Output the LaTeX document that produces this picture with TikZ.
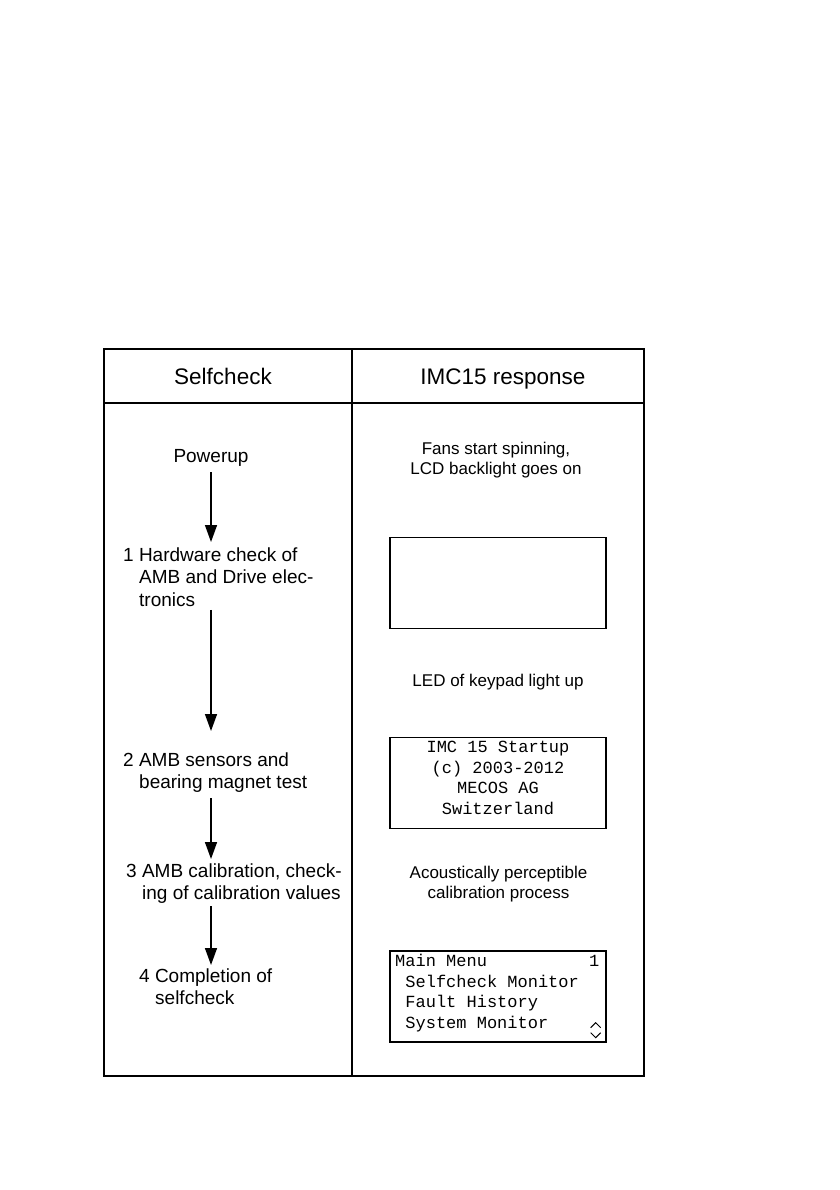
\documentclass[tikz,border=0pt]{standalone}
\usepackage{fontspec}
\setmainfont{Liberation Sans}
\setmonofont{Liberation Mono}
\usetikzlibrary{arrows.meta,calc}
\begin{document}
\begin{tikzpicture}[x=1pt,y=-1pt,
  frame/.style={line width=1.4pt},
  hdr/.style={inner sep=0pt,anchor=base,font=\fontsize{22.5}{26}\selectfont},
  lefttxt/.style={inner sep=0pt,anchor=base west,font=\fontsize{19}{22.5}\selectfont},
  righttxt/.style={inner sep=0pt,anchor=base,font=\fontsize{17}{20.7}\selectfont},
  lcd/.style={draw,line width=1.4pt,minimum width=216pt,minimum height=91pt,inner sep=0pt},
  monotxt/.style={inner sep=0pt,font=\fontsize{17}{20.5}\selectfont\ttfamily},
  arr/.style={line width=1.5pt,-{Triangle[length=17pt,width=12pt]}},
  chev/.style={line width=1pt}]
\useasboundingbox (0,0) rectangle (839,1190);
% table
\draw[frame] (104,349) rectangle (644,1076);
\draw[frame] (104,403) -- (644,403);
\draw[frame] (352,349) -- (352,1076);
\node[hdr] (h1) at (223,384) {Selfcheck};
\node[hdr] (h2) at (503,384) {IMC15 response};
% left column
\node[inner sep=0pt,anchor=base,font=\fontsize{19}{22.5}\selectfont] (pu) at (211,462) {Powerup};
\node[lefttxt] (s1) at (123,561) {\begin{tabular}[t]{@{}l@{}}1 Hardware check of\\\hspace{16pt}AMB and Drive elec-\\\hspace{16pt}tronics\end{tabular}};
\node[lefttxt] (s2) at (123,766) {\begin{tabular}[t]{@{}l@{}}2 AMB sensors and\\\hspace{16pt}bearing magnet test\end{tabular}};
\node[lefttxt] (s3) at (126,877) {\begin{tabular}[t]{@{}l@{}}3 AMB calibration, check-\\\hspace{16pt}ing of calibration values\end{tabular}};
\node[lefttxt] (s4) at (139,982) {\begin{tabular}[t]{@{}l@{}}4 Completion of\\\hspace{16pt}selfcheck\end{tabular}};
\draw[arr] ($(pu.base)+(0,10)$) -- ($(pu.base |- s1.base)+(0,-19)$);
\draw[arr] ($(pu.base |- s1.south)+(0,-3)$) -- ($(pu.base |- s2.base)+(0,-35)$);
\draw[arr] ($(pu.base |- s2.south)+(0,3)$) -- ($(pu.base |- s3.base)+(0,-18)$);
\draw[arr] ($(pu.base |- s3.south)+(0,0)$) -- ($(pu.base |- s4.base)+(0,-17)$);
% right column
\node[righttxt] (r1) at (496,454) {\begin{tabular}[t]{@{}c@{}}Fans start spinning,\\LCD backlight goes on\end{tabular}};
\node[lcd] (b1) at (498,583) {};
\node[righttxt] (r2) at (498,686) {LED of keypad light up};
\node[lcd] (b2) at (498,783) {};
\node[monotxt,anchor=base] (t2) at (498,752.5) {\begin{tabular}[t]{@{}c@{}}IMC 15 Startup\\(c) 2003-2012\\MECOS AG\\Switzerland\end{tabular}};
\node[righttxt] (r3) at (498.5,878) {\begin{tabular}[t]{@{}c@{}}Acoustically perceptible\\calibration process\end{tabular}};
\node[lcd] (b3) at (498,996.5) {};
\node[monotxt,anchor=base west] (t3) at (395,966.5) {\begin{tabular}[t]{@{}l@{}}Main Menu\ \ \ \ \ \ \ \ \ \ 1\\\ Selfcheck Monitor\\\ Fault History\\\ System Monitor\end{tabular}};
\draw[chev] ($(b3.south east)+(-16,-15)$) -- ($(b3.south east)+(-11,-20)$) -- ($(b3.south east)+(-6,-15)$);
\draw[chev] ($(b3.south east)+(-16,-10)$) -- ($(b3.south east)+(-11,-5)$) -- ($(b3.south east)+(-6,-10)$);
\end{tikzpicture}
\end{document}
